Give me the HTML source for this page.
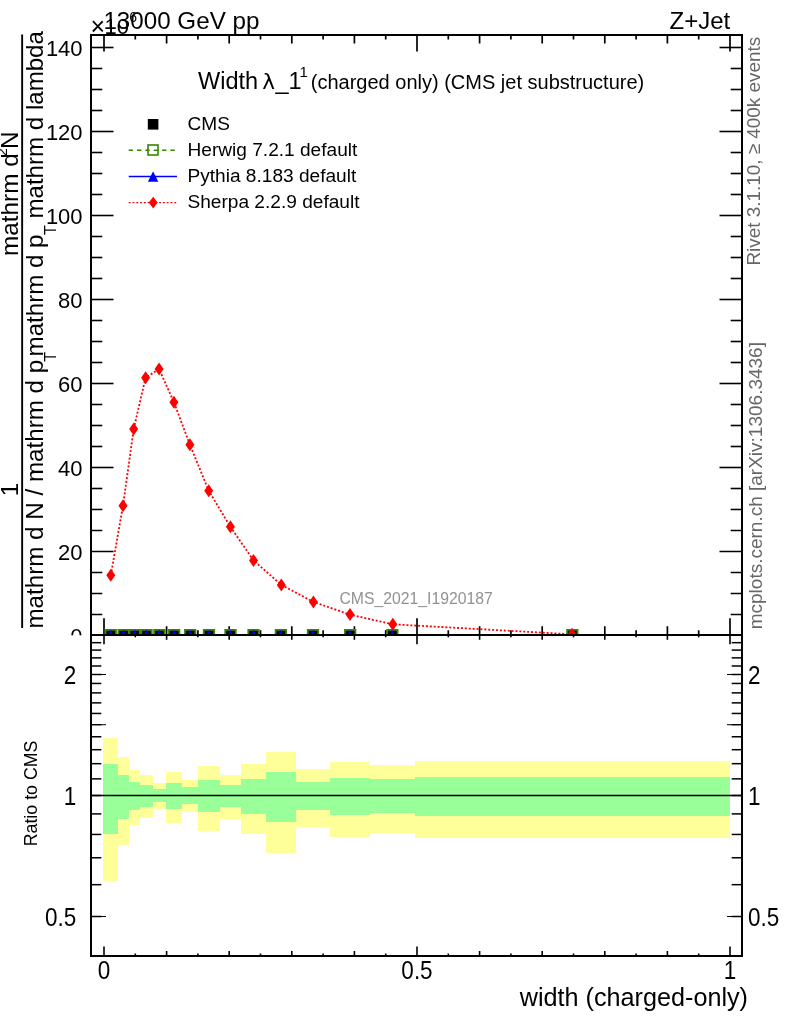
<!DOCTYPE html>
<html><head><meta charset="utf-8"><title>Z+Jet width (charged-only)</title>
<style>html,body{margin:0;padding:0;background:#fff}svg{display:block}</style></head>
<body>
<svg width="786" height="1024" viewBox="0 0 786 1024" font-family="Liberation Sans, sans-serif">
<defs><clipPath id="cm"><rect x="0" y="0" width="786" height="635.6"/></clipPath></defs>
<rect width="786" height="1024" fill="#fff"/>
<g clip-path="url(#cm)">
<text x="82.6" y="55.9" font-size="22" text-anchor="end">140</text>
<text x="82.6" y="139.9" font-size="22" text-anchor="end">120</text>
<text x="82.6" y="223.9" font-size="22" text-anchor="end">100</text>
<text x="82.6" y="307.9" font-size="22" text-anchor="end">80</text>
<text x="82.6" y="391.9" font-size="22" text-anchor="end">60</text>
<text x="82.6" y="475.9" font-size="22" text-anchor="end">40</text>
<text x="82.6" y="559.9" font-size="22" text-anchor="end">20</text>
<text x="82.6" y="643.9" font-size="22" text-anchor="end">0</text>
<line x1="91.00" y1="635.50" x2="113.50" y2="635.50" stroke="#000" stroke-width="1.6" />
<line x1="742.00" y1="635.50" x2="719.50" y2="635.50" stroke="#000" stroke-width="1.6" />
<line x1="91.00" y1="614.50" x2="102.30" y2="614.50" stroke="#000" stroke-width="1.6" />
<line x1="742.00" y1="614.50" x2="730.70" y2="614.50" stroke="#000" stroke-width="1.6" />
<line x1="91.00" y1="593.50" x2="102.30" y2="593.50" stroke="#000" stroke-width="1.6" />
<line x1="742.00" y1="593.50" x2="730.70" y2="593.50" stroke="#000" stroke-width="1.6" />
<line x1="91.00" y1="572.50" x2="102.30" y2="572.50" stroke="#000" stroke-width="1.6" />
<line x1="742.00" y1="572.50" x2="730.70" y2="572.50" stroke="#000" stroke-width="1.6" />
<line x1="91.00" y1="551.50" x2="113.50" y2="551.50" stroke="#000" stroke-width="1.6" />
<line x1="742.00" y1="551.50" x2="719.50" y2="551.50" stroke="#000" stroke-width="1.6" />
<line x1="91.00" y1="530.50" x2="102.30" y2="530.50" stroke="#000" stroke-width="1.6" />
<line x1="742.00" y1="530.50" x2="730.70" y2="530.50" stroke="#000" stroke-width="1.6" />
<line x1="91.00" y1="509.50" x2="102.30" y2="509.50" stroke="#000" stroke-width="1.6" />
<line x1="742.00" y1="509.50" x2="730.70" y2="509.50" stroke="#000" stroke-width="1.6" />
<line x1="91.00" y1="488.50" x2="102.30" y2="488.50" stroke="#000" stroke-width="1.6" />
<line x1="742.00" y1="488.50" x2="730.70" y2="488.50" stroke="#000" stroke-width="1.6" />
<line x1="91.00" y1="467.50" x2="113.50" y2="467.50" stroke="#000" stroke-width="1.6" />
<line x1="742.00" y1="467.50" x2="719.50" y2="467.50" stroke="#000" stroke-width="1.6" />
<line x1="91.00" y1="446.50" x2="102.30" y2="446.50" stroke="#000" stroke-width="1.6" />
<line x1="742.00" y1="446.50" x2="730.70" y2="446.50" stroke="#000" stroke-width="1.6" />
<line x1="91.00" y1="425.50" x2="102.30" y2="425.50" stroke="#000" stroke-width="1.6" />
<line x1="742.00" y1="425.50" x2="730.70" y2="425.50" stroke="#000" stroke-width="1.6" />
<line x1="91.00" y1="404.50" x2="102.30" y2="404.50" stroke="#000" stroke-width="1.6" />
<line x1="742.00" y1="404.50" x2="730.70" y2="404.50" stroke="#000" stroke-width="1.6" />
<line x1="91.00" y1="383.50" x2="113.50" y2="383.50" stroke="#000" stroke-width="1.6" />
<line x1="742.00" y1="383.50" x2="719.50" y2="383.50" stroke="#000" stroke-width="1.6" />
<line x1="91.00" y1="362.50" x2="102.30" y2="362.50" stroke="#000" stroke-width="1.6" />
<line x1="742.00" y1="362.50" x2="730.70" y2="362.50" stroke="#000" stroke-width="1.6" />
<line x1="91.00" y1="341.50" x2="102.30" y2="341.50" stroke="#000" stroke-width="1.6" />
<line x1="742.00" y1="341.50" x2="730.70" y2="341.50" stroke="#000" stroke-width="1.6" />
<line x1="91.00" y1="320.50" x2="102.30" y2="320.50" stroke="#000" stroke-width="1.6" />
<line x1="742.00" y1="320.50" x2="730.70" y2="320.50" stroke="#000" stroke-width="1.6" />
<line x1="91.00" y1="299.50" x2="113.50" y2="299.50" stroke="#000" stroke-width="1.6" />
<line x1="742.00" y1="299.50" x2="719.50" y2="299.50" stroke="#000" stroke-width="1.6" />
<line x1="91.00" y1="278.50" x2="102.30" y2="278.50" stroke="#000" stroke-width="1.6" />
<line x1="742.00" y1="278.50" x2="730.70" y2="278.50" stroke="#000" stroke-width="1.6" />
<line x1="91.00" y1="257.50" x2="102.30" y2="257.50" stroke="#000" stroke-width="1.6" />
<line x1="742.00" y1="257.50" x2="730.70" y2="257.50" stroke="#000" stroke-width="1.6" />
<line x1="91.00" y1="236.50" x2="102.30" y2="236.50" stroke="#000" stroke-width="1.6" />
<line x1="742.00" y1="236.50" x2="730.70" y2="236.50" stroke="#000" stroke-width="1.6" />
<line x1="91.00" y1="215.50" x2="113.50" y2="215.50" stroke="#000" stroke-width="1.6" />
<line x1="742.00" y1="215.50" x2="719.50" y2="215.50" stroke="#000" stroke-width="1.6" />
<line x1="91.00" y1="194.50" x2="102.30" y2="194.50" stroke="#000" stroke-width="1.6" />
<line x1="742.00" y1="194.50" x2="730.70" y2="194.50" stroke="#000" stroke-width="1.6" />
<line x1="91.00" y1="173.50" x2="102.30" y2="173.50" stroke="#000" stroke-width="1.6" />
<line x1="742.00" y1="173.50" x2="730.70" y2="173.50" stroke="#000" stroke-width="1.6" />
<line x1="91.00" y1="152.50" x2="102.30" y2="152.50" stroke="#000" stroke-width="1.6" />
<line x1="742.00" y1="152.50" x2="730.70" y2="152.50" stroke="#000" stroke-width="1.6" />
<line x1="91.00" y1="131.50" x2="113.50" y2="131.50" stroke="#000" stroke-width="1.6" />
<line x1="742.00" y1="131.50" x2="719.50" y2="131.50" stroke="#000" stroke-width="1.6" />
<line x1="91.00" y1="110.50" x2="102.30" y2="110.50" stroke="#000" stroke-width="1.6" />
<line x1="742.00" y1="110.50" x2="730.70" y2="110.50" stroke="#000" stroke-width="1.6" />
<line x1="91.00" y1="89.50" x2="102.30" y2="89.50" stroke="#000" stroke-width="1.6" />
<line x1="742.00" y1="89.50" x2="730.70" y2="89.50" stroke="#000" stroke-width="1.6" />
<line x1="91.00" y1="68.50" x2="102.30" y2="68.50" stroke="#000" stroke-width="1.6" />
<line x1="742.00" y1="68.50" x2="730.70" y2="68.50" stroke="#000" stroke-width="1.6" />
<line x1="91.00" y1="47.50" x2="113.50" y2="47.50" stroke="#000" stroke-width="1.6" />
<line x1="742.00" y1="47.50" x2="719.50" y2="47.50" stroke="#000" stroke-width="1.6" />
<line x1="104.00" y1="35.00" x2="104.00" y2="51.50" stroke="#000" stroke-width="1.7" />
<line x1="104.00" y1="634.80" x2="104.00" y2="618.30" stroke="#000" stroke-width="1.7" />
<line x1="135.30" y1="35.00" x2="135.30" y2="39.50" stroke="#000" stroke-width="1.7" />
<line x1="135.30" y1="634.80" x2="135.30" y2="630.30" stroke="#000" stroke-width="1.7" />
<line x1="166.60" y1="35.00" x2="166.60" y2="43.50" stroke="#000" stroke-width="1.7" />
<line x1="166.60" y1="634.80" x2="166.60" y2="626.30" stroke="#000" stroke-width="1.7" />
<line x1="197.90" y1="35.00" x2="197.90" y2="39.50" stroke="#000" stroke-width="1.7" />
<line x1="197.90" y1="634.80" x2="197.90" y2="630.30" stroke="#000" stroke-width="1.7" />
<line x1="229.20" y1="35.00" x2="229.20" y2="43.50" stroke="#000" stroke-width="1.7" />
<line x1="229.20" y1="634.80" x2="229.20" y2="626.30" stroke="#000" stroke-width="1.7" />
<line x1="260.50" y1="35.00" x2="260.50" y2="39.50" stroke="#000" stroke-width="1.7" />
<line x1="260.50" y1="634.80" x2="260.50" y2="630.30" stroke="#000" stroke-width="1.7" />
<line x1="291.80" y1="35.00" x2="291.80" y2="43.50" stroke="#000" stroke-width="1.7" />
<line x1="291.80" y1="634.80" x2="291.80" y2="626.30" stroke="#000" stroke-width="1.7" />
<line x1="323.10" y1="35.00" x2="323.10" y2="39.50" stroke="#000" stroke-width="1.7" />
<line x1="323.10" y1="634.80" x2="323.10" y2="630.30" stroke="#000" stroke-width="1.7" />
<line x1="354.40" y1="35.00" x2="354.40" y2="43.50" stroke="#000" stroke-width="1.7" />
<line x1="354.40" y1="634.80" x2="354.40" y2="626.30" stroke="#000" stroke-width="1.7" />
<line x1="385.70" y1="35.00" x2="385.70" y2="39.50" stroke="#000" stroke-width="1.7" />
<line x1="385.70" y1="634.80" x2="385.70" y2="630.30" stroke="#000" stroke-width="1.7" />
<line x1="417.00" y1="35.00" x2="417.00" y2="51.50" stroke="#000" stroke-width="1.7" />
<line x1="417.00" y1="634.80" x2="417.00" y2="618.30" stroke="#000" stroke-width="1.7" />
<line x1="448.30" y1="35.00" x2="448.30" y2="39.50" stroke="#000" stroke-width="1.7" />
<line x1="448.30" y1="634.80" x2="448.30" y2="630.30" stroke="#000" stroke-width="1.7" />
<line x1="479.60" y1="35.00" x2="479.60" y2="43.50" stroke="#000" stroke-width="1.7" />
<line x1="479.60" y1="634.80" x2="479.60" y2="626.30" stroke="#000" stroke-width="1.7" />
<line x1="510.90" y1="35.00" x2="510.90" y2="39.50" stroke="#000" stroke-width="1.7" />
<line x1="510.90" y1="634.80" x2="510.90" y2="630.30" stroke="#000" stroke-width="1.7" />
<line x1="542.20" y1="35.00" x2="542.20" y2="43.50" stroke="#000" stroke-width="1.7" />
<line x1="542.20" y1="634.80" x2="542.20" y2="626.30" stroke="#000" stroke-width="1.7" />
<line x1="573.50" y1="35.00" x2="573.50" y2="39.50" stroke="#000" stroke-width="1.7" />
<line x1="573.50" y1="634.80" x2="573.50" y2="630.30" stroke="#000" stroke-width="1.7" />
<line x1="604.80" y1="35.00" x2="604.80" y2="43.50" stroke="#000" stroke-width="1.7" />
<line x1="604.80" y1="634.80" x2="604.80" y2="626.30" stroke="#000" stroke-width="1.7" />
<line x1="636.10" y1="35.00" x2="636.10" y2="39.50" stroke="#000" stroke-width="1.7" />
<line x1="636.10" y1="634.80" x2="636.10" y2="630.30" stroke="#000" stroke-width="1.7" />
<line x1="667.40" y1="35.00" x2="667.40" y2="43.50" stroke="#000" stroke-width="1.7" />
<line x1="667.40" y1="634.80" x2="667.40" y2="626.30" stroke="#000" stroke-width="1.7" />
<line x1="698.70" y1="35.00" x2="698.70" y2="39.50" stroke="#000" stroke-width="1.7" />
<line x1="698.70" y1="634.80" x2="698.70" y2="630.30" stroke="#000" stroke-width="1.7" />
<line x1="730.00" y1="35.00" x2="730.00" y2="51.50" stroke="#000" stroke-width="1.7" />
<line x1="730.00" y1="634.80" x2="730.00" y2="618.30" stroke="#000" stroke-width="1.7" />
<polyline points="110.8,575.2 123.0,505.7 133.7,429.1 145.6,377.7 159.1,369.1 173.9,402.2 189.9,444.7 208.7,490.7 230.4,526.8 253.5,560.4 281.3,584.9 313.4,601.9 350.0,614.6 392.8,624.3 572.0,634.3" fill="none" stroke="#f00" stroke-width="1.8" stroke-dasharray="2 1.9"/>
<rect x="105.5" y="629.7" width="10.6" height="10.6" fill="#000"/>
<rect x="118.4" y="629.7" width="10.6" height="10.6" fill="#000"/>
<rect x="129.4" y="629.7" width="10.6" height="10.6" fill="#000"/>
<rect x="141.2" y="629.7" width="10.6" height="10.6" fill="#000"/>
<rect x="154.1" y="629.7" width="10.6" height="10.6" fill="#000"/>
<rect x="168.8" y="629.7" width="10.6" height="10.6" fill="#000"/>
<rect x="184.9" y="629.7" width="10.6" height="10.6" fill="#000"/>
<rect x="203.7" y="629.7" width="10.6" height="10.6" fill="#000"/>
<rect x="225.2" y="629.7" width="10.6" height="10.6" fill="#000"/>
<rect x="248.2" y="629.7" width="10.6" height="10.6" fill="#000"/>
<rect x="275.6" y="629.7" width="10.6" height="10.6" fill="#000"/>
<rect x="307.7" y="629.7" width="10.6" height="10.6" fill="#000"/>
<rect x="344.8" y="629.7" width="10.6" height="10.6" fill="#000"/>
<rect x="387.1" y="629.7" width="10.6" height="10.6" fill="#000"/>
<rect x="567.0" y="629.7" width="10.6" height="10.6" fill="#000"/>
<rect x="105.50" y="629.9" width="10.5" height="10.2" fill="none" stroke="#338800" stroke-width="1.8"/>
<rect x="118.40" y="629.9" width="10.5" height="10.2" fill="none" stroke="#338800" stroke-width="1.8"/>
<rect x="129.45" y="629.9" width="10.5" height="10.2" fill="none" stroke="#338800" stroke-width="1.8"/>
<rect x="141.30" y="629.9" width="10.5" height="10.2" fill="none" stroke="#338800" stroke-width="1.8"/>
<rect x="154.15" y="629.9" width="10.5" height="10.2" fill="none" stroke="#338800" stroke-width="1.8"/>
<rect x="168.90" y="629.9" width="10.5" height="10.2" fill="none" stroke="#338800" stroke-width="1.8"/>
<rect x="184.95" y="629.9" width="10.5" height="10.2" fill="none" stroke="#338800" stroke-width="1.8"/>
<rect x="203.75" y="629.9" width="10.5" height="10.2" fill="none" stroke="#338800" stroke-width="1.8"/>
<rect x="225.25" y="629.9" width="10.5" height="10.2" fill="none" stroke="#338800" stroke-width="1.8"/>
<rect x="248.30" y="629.9" width="10.5" height="10.2" fill="none" stroke="#338800" stroke-width="1.8"/>
<rect x="275.65" y="629.9" width="10.5" height="10.2" fill="none" stroke="#338800" stroke-width="1.8"/>
<rect x="307.75" y="629.9" width="10.5" height="10.2" fill="none" stroke="#338800" stroke-width="1.8"/>
<rect x="344.90" y="629.9" width="10.5" height="10.2" fill="none" stroke="#338800" stroke-width="1.8"/>
<rect x="387.10" y="629.9" width="10.5" height="10.2" fill="none" stroke="#338800" stroke-width="1.8"/>
<rect x="567.05" y="629.9" width="10.5" height="10.2" fill="none" stroke="#338800" stroke-width="1.8"/>
<polygon points="110.8,629.8 105.5,640.2 116.0,640.2" fill="#00f"/>
<polygon points="123.7,629.8 118.5,640.2 128.8,640.2" fill="#00f"/>
<polygon points="134.7,629.8 129.5,640.2 139.9,640.2" fill="#00f"/>
<polygon points="146.6,629.8 141.4,640.2 151.8,640.2" fill="#00f"/>
<polygon points="159.4,629.8 154.2,640.2 164.6,640.2" fill="#00f"/>
<polygon points="174.2,629.8 169.0,640.2 179.3,640.2" fill="#00f"/>
<polygon points="190.2,629.8 185.0,640.2 195.4,640.2" fill="#00f"/>
<polygon points="209.0,629.8 203.8,640.2 214.2,640.2" fill="#00f"/>
<polygon points="230.5,629.8 225.3,640.2 235.7,640.2" fill="#00f"/>
<polygon points="253.6,629.8 248.4,640.2 258.8,640.2" fill="#00f"/>
<polygon points="280.9,629.8 275.7,640.2 286.1,640.2" fill="#00f"/>
<polygon points="313.0,629.8 307.8,640.2 318.2,640.2" fill="#00f"/>
<polygon points="350.1,629.8 344.9,640.2 355.3,640.2" fill="#00f"/>
<polygon points="392.4,629.8 387.2,640.2 397.6,640.2" fill="#00f"/>
<polygon points="572.3,629.8 567.1,640.2 577.5,640.2" fill="#00f"/>
<polygon points="110.8,568.7 115.3,575.2 110.8,581.7 106.3,575.2" fill="#f00"/>
<polygon points="123.0,499.2 127.5,505.7 123.0,512.2 118.5,505.7" fill="#f00"/>
<polygon points="133.7,422.6 138.2,429.1 133.7,435.6 129.2,429.1" fill="#f00"/>
<polygon points="145.6,371.2 150.1,377.7 145.6,384.2 141.1,377.7" fill="#f00"/>
<polygon points="159.1,362.6 163.6,369.1 159.1,375.6 154.6,369.1" fill="#f00"/>
<polygon points="173.9,395.7 178.4,402.2 173.9,408.7 169.4,402.2" fill="#f00"/>
<polygon points="189.9,438.2 194.4,444.7 189.9,451.2 185.4,444.7" fill="#f00"/>
<polygon points="208.7,484.2 213.2,490.7 208.7,497.2 204.2,490.7" fill="#f00"/>
<polygon points="230.4,520.3 234.9,526.8 230.4,533.3 225.9,526.8" fill="#f00"/>
<polygon points="253.5,553.9 258.0,560.4 253.5,566.9 249.0,560.4" fill="#f00"/>
<polygon points="281.3,578.4 285.8,584.9 281.3,591.4 276.8,584.9" fill="#f00"/>
<polygon points="313.4,595.4 317.9,601.9 313.4,608.4 308.9,601.9" fill="#f00"/>
<polygon points="350.0,608.1 354.5,614.6 350.0,621.1 345.5,614.6" fill="#f00"/>
<polygon points="392.8,617.8 397.3,624.3 392.8,630.8 388.3,624.3" fill="#f00"/>
<polygon points="572.0,627.8 576.5,634.3 572.0,640.8 567.5,634.3" fill="#f00"/>
<line x1="91.00" y1="34.00" x2="91.00" y2="640.00" stroke="#000" stroke-width="2.0" />
<line x1="742.00" y1="34.00" x2="742.00" y2="640.00" stroke="#000" stroke-width="2.0" />
<line x1="90.00" y1="35.00" x2="743.00" y2="35.00" stroke="#000" stroke-width="2.0" />
</g>
<text x="198" y="88.8" font-size="23.5">Width</text>
<text x="262.2" y="88.8" font-size="21.5" font-family="DejaVu Sans, Liberation Sans, sans-serif">λ</text>
<text x="275.5" y="88.8" font-size="23.5">_</text>
<text x="288.6" y="88.8" font-size="23.5">1</text>
<text x="299.6" y="77.3" font-size="15">1</text>
<text x="310.8" y="89" font-size="20">(charged only) (CMS jet substructure)</text>
<text x="187.5" y="129.9" font-size="19.1">CMS</text>
<text x="187.5" y="156.0" font-size="19.1">Herwig 7.2.1 default</text>
<text x="187.5" y="182.2" font-size="19.1">Pythia 8.183 default</text>
<text x="187.5" y="208.3" font-size="19.1">Sherpa 2.2.9 default</text>
<rect x="147.8" y="119" width="10.6" height="10.6" fill="#000"/>
<line x1="128.65" y1="150.30" x2="175.00" y2="150.30" stroke="#338800" stroke-width="1.4" stroke-dasharray="4.4 3.95"/>
<rect x="148" y="145" width="10" height="10" fill="none" stroke="#338800" stroke-width="1.6"/>
<line x1="128.70" y1="176.50" x2="177.00" y2="176.50" stroke="#00f" stroke-width="1.4" />
<polygon points="153.1,171.2 147.9,181.7 158.3,181.7" fill="#00f"/>
<line x1="128.70" y1="202.60" x2="177.00" y2="202.60" stroke="#f00" stroke-width="1.4" stroke-dasharray="1.9 1.9"/>
<polygon points="153.2,196.7 157.6,202.6 153.2,208.5 148.8,202.6" fill="#f00"/>
<text x="339.5" y="604" font-size="15.75" fill="#929292">CMS_2021_I1920187</text>
<text x="103.4" y="28.7" font-size="24.2">13000 GeV pp</text>
<text x="730.3" y="28.9" font-size="24" text-anchor="end">Z+Jet</text>
<text x="97.7" y="35.4" font-size="25" text-anchor="middle">×</text>
<text x="104.4" y="34.1" font-size="22">10<tspan font-size="14" dy="-12.2" dx="0.3">6</tspan></text>
<text transform="translate(17.9,255.9) rotate(-90)" font-size="24.3" text-anchor="start" fill="#000" >mathrm d</text>
<text transform="translate(7.1,156.0) rotate(-90)" font-size="14" text-anchor="start" fill="#000" >2</text>
<text transform="translate(17.9,148.9) rotate(-90)" font-size="24.3" text-anchor="start" fill="#000" >N</text>
<text transform="translate(17.9,489.5) rotate(-90)" font-size="24.3" text-anchor="middle" fill="#000" >1</text>
<text transform="translate(43.1,628.6) rotate(-90)" font-size="24.2" text-anchor="start" fill="#000" >mathrm d N / mathrm d p<tspan font-size="16" dy="12.8" dx="-1.9">T</tspan></text>
<text transform="translate(43.1,356.4) rotate(-90)" font-size="24.1" text-anchor="start" fill="#000" >mathrm d p<tspan font-size="16" dy="12.8" dx="-0.5">T</tspan><tspan dy="-12.8"> mathrm d lambda</tspan></text>
<line x1="22.15" y1="34.50" x2="22.15" y2="628.00" stroke="#000" stroke-width="1.9" />
<text transform="translate(760.3,265.6) rotate(-90)" font-size="18.9" text-anchor="start" fill="#666" >Rivet 3.1.10, ≥ 400k events</text>
<text transform="translate(762.3,629.3) rotate(-90)" font-size="19.0" text-anchor="start" fill="#666" >mcplots.cern.ch [arXiv:1306.3436]</text>
<rect x="0" y="635.6" width="786" height="388.4" fill="#fff"/>
<polygon shape-rendering="crispEdges" fill="#ffff99" points="103.3,738.3 118.2,738.3 118.2,757.2 129.1,757.2 129.1,770.4 140.3,770.4 140.3,775.2 152.8,775.2 152.8,783.2 166.0,783.2 166.0,772.0 182.3,772.0 182.3,780.4 198.1,780.4 198.1,766.1 219.9,766.1 219.9,775.0 241.1,775.0 241.1,763.7 266.0,763.7 266.0,752.3 295.8,752.3 295.8,769.0 330.2,769.0 330.2,762.0 370.1,762.0 370.1,764.5 414.6,764.5 414.6,761.1 730.0,761.1 730.0,838.4 414.6,838.4 414.6,833.3 370.1,833.3 370.1,837.0 330.2,837.0 330.2,826.8 295.8,826.8 295.8,853.0 266.0,853.0 266.0,834.3 241.1,834.3 241.1,818.7 219.9,818.7 219.9,830.9 198.1,830.9 198.1,812.1 182.3,812.1 182.3,822.6 166.0,822.6 166.0,808.7 152.8,808.7 152.8,818.4 140.3,818.4 140.3,824.8 129.1,824.8 129.1,844.7 118.2,844.7 118.2,881.2 103.3,881.2"/>
<polygon shape-rendering="crispEdges" fill="#99ff99" points="103.3,764.3 118.2,764.3 118.2,775.0 129.1,775.0 129.1,782.2 140.3,782.2 140.3,784.9 152.8,784.9 152.8,789.0 166.0,789.0 166.0,783.2 182.3,783.2 182.3,787.4 198.1,787.4 198.1,780.1 219.9,780.1 219.9,784.7 241.1,784.7 241.1,778.5 266.0,778.5 266.0,772.4 295.8,772.4 295.8,781.9 330.2,781.9 330.2,778.1 370.1,778.1 370.1,779.4 414.6,779.4 414.6,777.1 730.0,777.1 730.0,816.0 414.6,816.0 414.6,813.2 370.1,813.2 370.1,814.9 330.2,814.9 330.2,810.2 295.8,810.2 295.8,822.1 266.0,822.1 266.0,814.3 241.1,814.3 241.1,807.0 219.9,807.0 219.9,812.4 198.1,812.4 198.1,804.0 182.3,804.0 182.3,808.7 166.0,808.7 166.0,802.3 152.8,802.3 152.8,806.8 140.3,806.8 140.3,809.9 129.1,809.9 129.1,818.7 118.2,818.7 118.2,833.6 103.3,833.6"/>
<line x1="91.00" y1="795.50" x2="742.00" y2="795.50" stroke="#000" stroke-width="1.3" />
<line x1="91.00" y1="916.50" x2="101.30" y2="916.50" stroke="#000" stroke-width="1.5" />
<line x1="742.00" y1="916.50" x2="731.70" y2="916.50" stroke="#000" stroke-width="1.5" />
<line x1="101.00" y1="916.50" x2="106.00" y2="916.50" stroke="#000" stroke-width="1.0" />
<line x1="732.00" y1="916.50" x2="727.00" y2="916.50" stroke="#000" stroke-width="1.0" />
<line x1="91.00" y1="884.67" x2="101.30" y2="884.67" stroke="#000" stroke-width="1.5" />
<line x1="742.00" y1="884.67" x2="731.70" y2="884.67" stroke="#000" stroke-width="1.5" />
<line x1="91.00" y1="857.76" x2="101.30" y2="857.76" stroke="#000" stroke-width="1.5" />
<line x1="742.00" y1="857.76" x2="731.70" y2="857.76" stroke="#000" stroke-width="1.5" />
<line x1="91.00" y1="834.45" x2="101.30" y2="834.45" stroke="#000" stroke-width="1.5" />
<line x1="742.00" y1="834.45" x2="731.70" y2="834.45" stroke="#000" stroke-width="1.5" />
<line x1="91.00" y1="813.89" x2="101.30" y2="813.89" stroke="#000" stroke-width="1.5" />
<line x1="742.00" y1="813.89" x2="731.70" y2="813.89" stroke="#000" stroke-width="1.5" />
<line x1="91.00" y1="795.50" x2="101.30" y2="795.50" stroke="#000" stroke-width="1.5" />
<line x1="742.00" y1="795.50" x2="731.70" y2="795.50" stroke="#000" stroke-width="1.5" />
<line x1="101.00" y1="795.50" x2="106.00" y2="795.50" stroke="#000" stroke-width="1.0" />
<line x1="732.00" y1="795.50" x2="727.00" y2="795.50" stroke="#000" stroke-width="1.0" />
<line x1="91.00" y1="778.86" x2="101.30" y2="778.86" stroke="#000" stroke-width="1.5" />
<line x1="742.00" y1="778.86" x2="731.70" y2="778.86" stroke="#000" stroke-width="1.5" />
<line x1="91.00" y1="763.67" x2="101.30" y2="763.67" stroke="#000" stroke-width="1.5" />
<line x1="742.00" y1="763.67" x2="731.70" y2="763.67" stroke="#000" stroke-width="1.5" />
<line x1="91.00" y1="749.70" x2="101.30" y2="749.70" stroke="#000" stroke-width="1.5" />
<line x1="742.00" y1="749.70" x2="731.70" y2="749.70" stroke="#000" stroke-width="1.5" />
<line x1="91.00" y1="736.76" x2="101.30" y2="736.76" stroke="#000" stroke-width="1.5" />
<line x1="742.00" y1="736.76" x2="731.70" y2="736.76" stroke="#000" stroke-width="1.5" />
<line x1="91.00" y1="724.72" x2="101.30" y2="724.72" stroke="#000" stroke-width="1.5" />
<line x1="742.00" y1="724.72" x2="731.70" y2="724.72" stroke="#000" stroke-width="1.5" />
<line x1="101.00" y1="724.72" x2="106.00" y2="724.72" stroke="#000" stroke-width="1.0" />
<line x1="732.00" y1="724.72" x2="727.00" y2="724.72" stroke="#000" stroke-width="1.0" />
<line x1="91.00" y1="713.45" x2="101.30" y2="713.45" stroke="#000" stroke-width="1.5" />
<line x1="742.00" y1="713.45" x2="731.70" y2="713.45" stroke="#000" stroke-width="1.5" />
<line x1="91.00" y1="702.87" x2="101.30" y2="702.87" stroke="#000" stroke-width="1.5" />
<line x1="742.00" y1="702.87" x2="731.70" y2="702.87" stroke="#000" stroke-width="1.5" />
<line x1="91.00" y1="692.89" x2="101.30" y2="692.89" stroke="#000" stroke-width="1.5" />
<line x1="742.00" y1="692.89" x2="731.70" y2="692.89" stroke="#000" stroke-width="1.5" />
<line x1="91.00" y1="683.45" x2="101.30" y2="683.45" stroke="#000" stroke-width="1.5" />
<line x1="742.00" y1="683.45" x2="731.70" y2="683.45" stroke="#000" stroke-width="1.5" />
<line x1="91.00" y1="674.50" x2="101.30" y2="674.50" stroke="#000" stroke-width="1.5" />
<line x1="742.00" y1="674.50" x2="731.70" y2="674.50" stroke="#000" stroke-width="1.5" />
<line x1="101.00" y1="674.50" x2="106.00" y2="674.50" stroke="#000" stroke-width="1.0" />
<line x1="732.00" y1="674.50" x2="727.00" y2="674.50" stroke="#000" stroke-width="1.0" />
<line x1="91.00" y1="665.98" x2="101.30" y2="665.98" stroke="#000" stroke-width="1.5" />
<line x1="742.00" y1="665.98" x2="731.70" y2="665.98" stroke="#000" stroke-width="1.5" />
<line x1="91.00" y1="657.86" x2="101.30" y2="657.86" stroke="#000" stroke-width="1.5" />
<line x1="742.00" y1="657.86" x2="731.70" y2="657.86" stroke="#000" stroke-width="1.5" />
<line x1="91.00" y1="650.10" x2="101.30" y2="650.10" stroke="#000" stroke-width="1.5" />
<line x1="742.00" y1="650.10" x2="731.70" y2="650.10" stroke="#000" stroke-width="1.5" />
<line x1="91.00" y1="642.67" x2="101.30" y2="642.67" stroke="#000" stroke-width="1.5" />
<line x1="742.00" y1="642.67" x2="731.70" y2="642.67" stroke="#000" stroke-width="1.5" />
<line x1="104.00" y1="634.80" x2="104.00" y2="644.30" stroke="#000" stroke-width="1.6" />
<line x1="104.00" y1="956.00" x2="104.00" y2="946.50" stroke="#000" stroke-width="1.6" />
<line x1="135.30" y1="634.80" x2="135.30" y2="637.30" stroke="#000" stroke-width="1.6" />
<line x1="135.30" y1="956.00" x2="135.30" y2="953.50" stroke="#000" stroke-width="1.6" />
<line x1="166.60" y1="634.80" x2="166.60" y2="639.80" stroke="#000" stroke-width="1.6" />
<line x1="166.60" y1="956.00" x2="166.60" y2="951.00" stroke="#000" stroke-width="1.6" />
<line x1="197.90" y1="634.80" x2="197.90" y2="637.30" stroke="#000" stroke-width="1.6" />
<line x1="197.90" y1="956.00" x2="197.90" y2="953.50" stroke="#000" stroke-width="1.6" />
<line x1="229.20" y1="634.80" x2="229.20" y2="639.80" stroke="#000" stroke-width="1.6" />
<line x1="229.20" y1="956.00" x2="229.20" y2="951.00" stroke="#000" stroke-width="1.6" />
<line x1="260.50" y1="634.80" x2="260.50" y2="637.30" stroke="#000" stroke-width="1.6" />
<line x1="260.50" y1="956.00" x2="260.50" y2="953.50" stroke="#000" stroke-width="1.6" />
<line x1="291.80" y1="634.80" x2="291.80" y2="639.80" stroke="#000" stroke-width="1.6" />
<line x1="291.80" y1="956.00" x2="291.80" y2="951.00" stroke="#000" stroke-width="1.6" />
<line x1="323.10" y1="634.80" x2="323.10" y2="637.30" stroke="#000" stroke-width="1.6" />
<line x1="323.10" y1="956.00" x2="323.10" y2="953.50" stroke="#000" stroke-width="1.6" />
<line x1="354.40" y1="634.80" x2="354.40" y2="639.80" stroke="#000" stroke-width="1.6" />
<line x1="354.40" y1="956.00" x2="354.40" y2="951.00" stroke="#000" stroke-width="1.6" />
<line x1="385.70" y1="634.80" x2="385.70" y2="637.30" stroke="#000" stroke-width="1.6" />
<line x1="385.70" y1="956.00" x2="385.70" y2="953.50" stroke="#000" stroke-width="1.6" />
<line x1="417.00" y1="634.80" x2="417.00" y2="644.30" stroke="#000" stroke-width="1.6" />
<line x1="417.00" y1="956.00" x2="417.00" y2="946.50" stroke="#000" stroke-width="1.6" />
<line x1="448.30" y1="634.80" x2="448.30" y2="637.30" stroke="#000" stroke-width="1.6" />
<line x1="448.30" y1="956.00" x2="448.30" y2="953.50" stroke="#000" stroke-width="1.6" />
<line x1="479.60" y1="634.80" x2="479.60" y2="639.80" stroke="#000" stroke-width="1.6" />
<line x1="479.60" y1="956.00" x2="479.60" y2="951.00" stroke="#000" stroke-width="1.6" />
<line x1="510.90" y1="634.80" x2="510.90" y2="637.30" stroke="#000" stroke-width="1.6" />
<line x1="510.90" y1="956.00" x2="510.90" y2="953.50" stroke="#000" stroke-width="1.6" />
<line x1="542.20" y1="634.80" x2="542.20" y2="639.80" stroke="#000" stroke-width="1.6" />
<line x1="542.20" y1="956.00" x2="542.20" y2="951.00" stroke="#000" stroke-width="1.6" />
<line x1="573.50" y1="634.80" x2="573.50" y2="637.30" stroke="#000" stroke-width="1.6" />
<line x1="573.50" y1="956.00" x2="573.50" y2="953.50" stroke="#000" stroke-width="1.6" />
<line x1="604.80" y1="634.80" x2="604.80" y2="639.80" stroke="#000" stroke-width="1.6" />
<line x1="604.80" y1="956.00" x2="604.80" y2="951.00" stroke="#000" stroke-width="1.6" />
<line x1="636.10" y1="634.80" x2="636.10" y2="637.30" stroke="#000" stroke-width="1.6" />
<line x1="636.10" y1="956.00" x2="636.10" y2="953.50" stroke="#000" stroke-width="1.6" />
<line x1="667.40" y1="634.80" x2="667.40" y2="639.80" stroke="#000" stroke-width="1.6" />
<line x1="667.40" y1="956.00" x2="667.40" y2="951.00" stroke="#000" stroke-width="1.6" />
<line x1="698.70" y1="634.80" x2="698.70" y2="637.30" stroke="#000" stroke-width="1.6" />
<line x1="698.70" y1="956.00" x2="698.70" y2="953.50" stroke="#000" stroke-width="1.6" />
<line x1="730.00" y1="634.80" x2="730.00" y2="644.30" stroke="#000" stroke-width="1.6" />
<line x1="730.00" y1="956.00" x2="730.00" y2="946.50" stroke="#000" stroke-width="1.6" />
<line x1="91.00" y1="635.00" x2="91.00" y2="957.00" stroke="#000" stroke-width="2.0" />
<line x1="742.00" y1="635.00" x2="742.00" y2="957.00" stroke="#000" stroke-width="2.0" />
<line x1="90.00" y1="956.00" x2="743.00" y2="956.00" stroke="#000" stroke-width="2.0" />
<line x1="90.00" y1="635.00" x2="743.00" y2="635.00" stroke="#000" stroke-width="2.0" />
<text transform="translate(76.3,683.5) scale(1,1.15)" font-size="22.5" text-anchor="end">2</text>
<text transform="translate(748.0,683.5) scale(1,1.15)" font-size="22.5">2</text>
<text transform="translate(76.3,804.5) scale(1,1.15)" font-size="22.5" text-anchor="end">1</text>
<text transform="translate(748.0,804.5) scale(1,1.15)" font-size="22.5">1</text>
<text transform="translate(76.3,925.5) scale(1,1.15)" font-size="22.5" text-anchor="end">0.5</text>
<text transform="translate(748.0,925.5) scale(1,1.15)" font-size="22.5">0.5</text>
<text transform="translate(104.0,978.6) scale(1,1.15)" font-size="22.5" text-anchor="middle">0</text>
<text transform="translate(417.0,978.6) scale(1,1.15)" font-size="22.5" text-anchor="middle">0.5</text>
<text transform="translate(730.0,978.6) scale(1,1.15)" font-size="22.5" text-anchor="middle">1</text>
<text x="748" y="1006.3" font-size="25.2" text-anchor="end">width (charged-only)</text>
<text transform="translate(36.6,846.3) rotate(-90)" font-size="17.8" text-anchor="start" fill="#000" >Ratio to CMS</text>
</svg>
</body></html>
